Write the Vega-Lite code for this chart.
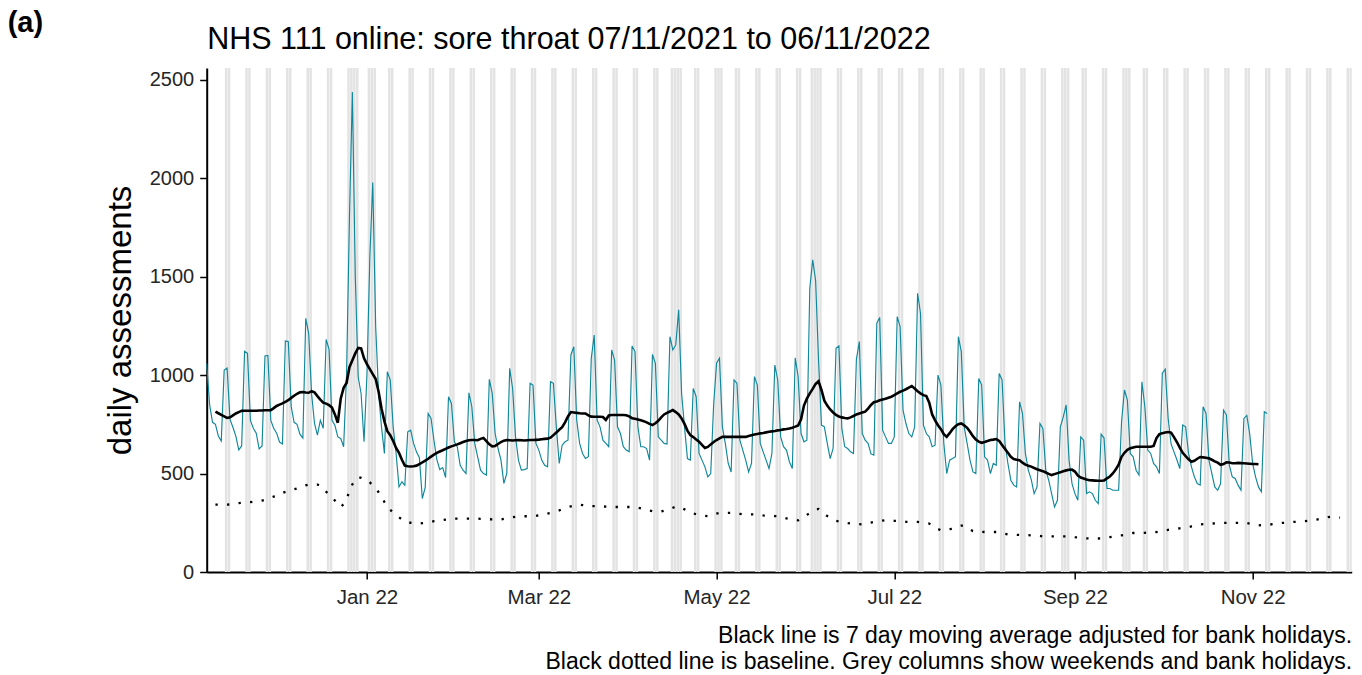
{
"$schema":"https://vega.github.io/schema/vega-lite/v6.json",
"width":1145,"height":504,
"autosize":{"type":"none"},
"padding":{"left":206.7,"top":68,"right":10.3,"bottom":103},
"background":"white",
"config":{"font":"Liberation Sans","view":{"stroke":null},"axis":{"grid":false},
"axisY":{"domainColor":"black","domainWidth":2,"tickColor":"black","tickWidth":1.5,"tickSize":7,"labelFontSize":20,"labelColor":"#262626","labelPadding":6,"titleFontSize":33,"titleFontWeight":"normal","titleColor":"black","titlePadding":12},
"axisBottom":{"domainColor":"black","domainWidth":2,"tickColor":"black","tickWidth":1.5,"tickSize":7,"labelFontSize":20.5,"labelColor":"#262626","labelPadding":8,"titleFontSize":23,"titleFontWeight":"normal","titleColor":"black","titleAnchor":"end","titleAlign":"right","titleLineHeight":25.5,"titlePadding":17}},
"title":{"text":"(a)","anchor":"start","frame":"group","fontSize":29,"fontWeight":"bold","color":"black","dx":-199,"dy":37,"offset":0,"baseline":"alphabetic"},
"data":{"values":[
{"d":"2021-11-07","v":1059},{"d":"2021-11-08","v":850},{"d":"2021-11-09","v":760},{"d":"2021-11-10","v":750,"m":814,"b":342},{"d":"2021-11-11","v":690,"m":806,"b":342},{"d":"2021-11-12","v":665,"m":798,"b":342},{"d":"2021-11-13","v":1025,"m":790,"b":342,"w":1},{"d":"2021-11-14","v":1035,"m":782,"b":342,"w":1},{"d":"2021-11-15","v":775,"m":785,"b":343},{"d":"2021-11-16","v":735,"m":795,"b":346},{"d":"2021-11-17","v":690,"m":805,"b":348},{"d":"2021-11-18","v":620,"m":812,"b":350},{"d":"2021-11-19","v":640,"m":818,"b":352},{"d":"2021-11-20","v":1120,"m":819,"b":353,"w":1},{"d":"2021-11-21","v":1110,"m":819,"b":354,"w":1},{"d":"2021-11-22","v":770,"m":819,"b":355},{"d":"2021-11-23","v":730,"m":819,"b":357},{"d":"2021-11-24","v":705,"m":819,"b":359},{"d":"2021-11-25","v":625,"m":820,"b":361},{"d":"2021-11-26","v":640,"m":820,"b":363},{"d":"2021-11-27","v":1097,"m":821,"b":367,"w":1},{"d":"2021-11-28","v":1100,"m":821,"b":372,"w":1},{"d":"2021-11-29","v":770,"m":822,"b":378},{"d":"2021-11-30","v":730,"m":832,"b":383},
{"d":"2021-12-01","v":705,"m":843,"b":389},{"d":"2021-12-02","v":660,"m":850,"b":395},{"d":"2021-12-03","v":650,"m":856,"b":401},{"d":"2021-12-04","v":1173,"m":864,"b":407,"w":1},{"d":"2021-12-05","v":1170,"m":872,"b":411,"w":1},{"d":"2021-12-06","v":840,"m":884,"b":415},{"d":"2021-12-07","v":760,"m":895,"b":420},{"d":"2021-12-08","v":750,"m":905,"b":424},{"d":"2021-12-09","v":700,"m":912,"b":429},{"d":"2021-12-10","v":680,"m":914,"b":434},{"d":"2021-12-11","v":1288,"m":911,"b":440,"w":1},{"d":"2021-12-12","v":1212,"m":910,"b":444,"w":1},{"d":"2021-12-13","v":905,"m":918,"b":445},{"d":"2021-12-14","v":755,"m":912,"b":445},{"d":"2021-12-15","v":695,"m":893,"b":444},{"d":"2021-12-16","v":770,"m":875,"b":440},{"d":"2021-12-17","v":730,"m":860,"b":425},{"d":"2021-12-18","v":1181,"m":855,"b":408,"w":1},{"d":"2021-12-19","v":1130,"m":847,"b":392,"w":1},{"d":"2021-12-20","v":770,"m":835,"b":378},{"d":"2021-12-21","v":745,"m":800,"b":363},{"d":"2021-12-22","v":686,"m":758,"b":345},{"d":"2021-12-23","v":678,"m":880,"b":330},{"d":"2021-12-24","v":636,"m":935,"b":345},{"d":"2021-12-25","v":1000,"m":960,"b":370,"w":1},{"d":"2021-12-26","v":1800,"m":1040,"b":410,"w":1},{"d":"2021-12-27","v":2437,"m":1075,"b":445,"w":1},{"d":"2021-12-28","v":1500,"m":1110,"b":465,"w":1},{"d":"2021-12-29","v":990,"m":1138,"b":482},{"d":"2021-12-30","v":905,"m":1135,"b":478},{"d":"2021-12-31","v":661,"m":1085,"b":472},
{"d":"2022-01-01","v":1000,"m":1055,"b":467,"w":1},{"d":"2022-01-02","v":1600,"m":1030,"b":455,"w":1},{"d":"2022-01-03","v":1978,"m":1005,"b":440,"w":1},{"d":"2022-01-04","v":1245,"m":980,"b":425},{"d":"2022-01-05","v":907,"m":915,"b":405},{"d":"2022-01-06","v":737,"m":830,"b":383},{"d":"2022-01-07","v":602,"m":765,"b":355},{"d":"2022-01-08","v":1017,"m":715,"b":328,"w":1},{"d":"2022-01-09","v":975,"m":695,"b":315,"w":1},{"d":"2022-01-10","v":737,"m":665,"b":302},{"d":"2022-01-11","v":602,"m":630,"b":290},{"d":"2022-01-12","v":432,"m":605,"b":278},{"d":"2022-01-13","v":458,"m":570,"b":267},{"d":"2022-01-14","v":440,"m":540,"b":256},{"d":"2022-01-15","v":712,"m":537,"b":252,"w":1},{"d":"2022-01-16","v":720,"m":536,"b":250,"w":1},{"d":"2022-01-17","v":653,"m":537,"b":248},{"d":"2022-01-18","v":610,"m":540,"b":247},{"d":"2022-01-19","v":580,"m":548,"b":246},{"d":"2022-01-20","v":373,"m":556,"b":248},{"d":"2022-01-21","v":430,"m":565,"b":250},{"d":"2022-01-22","v":805,"m":575,"b":253,"w":1},{"d":"2022-01-23","v":780,"m":586,"b":255,"w":1},{"d":"2022-01-24","v":669,"m":596,"b":258},{"d":"2022-01-25","v":570,"m":605,"b":260},{"d":"2022-01-26","v":520,"m":612,"b":262},{"d":"2022-01-27","v":530,"m":618,"b":264},{"d":"2022-01-28","v":480,"m":625,"b":266},{"d":"2022-01-29","v":890,"m":632,"b":268,"w":1},{"d":"2022-01-30","v":856,"m":638,"b":270,"w":1},{"d":"2022-01-31","v":661,"m":643,"b":271},
{"d":"2022-02-01","v":636,"m":648,"b":271},{"d":"2022-02-02","v":542,"m":654,"b":271},{"d":"2022-02-03","v":517,"m":660,"b":271},{"d":"2022-02-04","v":500,"m":665,"b":271},{"d":"2022-02-05","v":910,"m":669,"b":271,"w":1},{"d":"2022-02-06","v":839,"m":670,"b":271,"w":1},{"d":"2022-02-07","v":653,"m":670,"b":271},{"d":"2022-02-08","v":585,"m":669,"b":271},{"d":"2022-02-09","v":517,"m":676,"b":270},{"d":"2022-02-10","v":500,"m":680,"b":270},{"d":"2022-02-11","v":492,"m":665,"b":269},{"d":"2022-02-12","v":978,"m":648,"b":268,"w":1},{"d":"2022-02-13","v":907,"m":638,"b":267,"w":1},{"d":"2022-02-14","v":703,"m":640,"b":267},{"d":"2022-02-15","v":627,"m":650,"b":266},{"d":"2022-02-16","v":568,"m":660,"b":267},{"d":"2022-02-17","v":450,"m":667,"b":270},{"d":"2022-02-18","v":500,"m":670,"b":273},{"d":"2022-02-19","v":1034,"m":669,"b":276,"w":1},{"d":"2022-02-20","v":932,"m":668,"b":278,"w":1},{"d":"2022-02-21","v":686,"m":669,"b":280},{"d":"2022-02-22","v":568,"m":670,"b":282},{"d":"2022-02-23","v":517,"m":669,"b":283},{"d":"2022-02-24","v":520,"m":668,"b":283},{"d":"2022-02-25","v":525,"m":669,"b":283},{"d":"2022-02-26","v":958,"m":670,"b":283,"w":1},{"d":"2022-02-27","v":949,"m":670,"b":283,"w":1},{"d":"2022-02-28","v":653,"m":671,"b":285},
{"d":"2022-03-01","v":619,"m":672,"b":288},{"d":"2022-03-02","v":568,"m":674,"b":290},{"d":"2022-03-03","v":542,"m":676,"b":293},{"d":"2022-03-04","v":534,"m":677,"b":297},{"d":"2022-03-05","v":966,"m":682,"b":300,"w":1},{"d":"2022-03-06","v":958,"m":695,"b":304,"w":1},{"d":"2022-03-07","v":737,"m":708,"b":308},{"d":"2022-03-08","v":551,"m":722,"b":313},{"d":"2022-03-09","v":644,"m":735,"b":319},{"d":"2022-03-10","v":661,"m":760,"b":325},{"d":"2022-03-11","v":669,"m":790,"b":330},{"d":"2022-03-12","v":1102,"m":812,"b":333,"w":1},{"d":"2022-03-13","v":1144,"m":810,"b":336,"w":1},{"d":"2022-03-14","v":771,"m":808,"b":339},{"d":"2022-03-15","v":653,"m":806,"b":342},{"d":"2022-03-16","v":602,"m":805,"b":340},{"d":"2022-03-17","v":576,"m":805,"b":338},{"d":"2022-03-18","v":585,"m":795,"b":336},{"d":"2022-03-19","v":1085,"m":789,"b":334,"w":1},{"d":"2022-03-20","v":1203,"m":788,"b":334,"w":1},{"d":"2022-03-21","v":771,"m":788,"b":334},{"d":"2022-03-22","v":737,"m":788,"b":334},{"d":"2022-03-23","v":669,"m":787,"b":333},{"d":"2022-03-24","v":653,"m":772,"b":332},{"d":"2022-03-25","v":636,"m":795,"b":331},{"d":"2022-03-26","v":1127,"m":797,"b":330,"w":1},{"d":"2022-03-27","v":1076,"m":797,"b":330,"w":1},{"d":"2022-03-28","v":737,"m":797,"b":330},{"d":"2022-03-29","v":703,"m":797,"b":330},{"d":"2022-03-30","v":636,"m":797,"b":330},{"d":"2022-03-31","v":619,"m":796,"b":330},
{"d":"2022-04-01","v":610,"m":790,"b":330},{"d":"2022-04-02","v":1148,"m":781,"b":330,"w":1},{"d":"2022-04-03","v":1119,"m":778,"b":330,"w":1},{"d":"2022-04-04","v":737,"m":774,"b":327},{"d":"2022-04-05","v":636,"m":770,"b":323},{"d":"2022-04-06","v":636,"m":766,"b":319},{"d":"2022-04-07","v":627,"m":760,"b":315},{"d":"2022-04-08","v":568,"m":752,"b":312},{"d":"2022-04-09","v":1105,"m":746,"b":309,"w":1},{"d":"2022-04-10","v":1059,"m":755,"b":307,"w":1},{"d":"2022-04-11","v":686,"m":768,"b":305},{"d":"2022-04-12","v":669,"m":785,"b":307},{"d":"2022-04-13","v":653,"m":800,"b":311},{"d":"2022-04-14","v":650,"m":808,"b":315},{"d":"2022-04-15","v":1195,"m":815,"b":320,"w":1},{"d":"2022-04-16","v":1127,"m":822,"b":326,"w":1},{"d":"2022-04-17","v":1153,"m":812,"b":332,"w":1},{"d":"2022-04-18","v":1331,"m":800,"b":332,"w":1},{"d":"2022-04-19","v":907,"m":780,"b":325},{"d":"2022-04-20","v":737,"m":752,"b":318},{"d":"2022-04-21","v":576,"m":718,"b":310},{"d":"2022-04-22","v":568,"m":695,"b":303},{"d":"2022-04-23","v":932,"m":685,"b":298,"w":1},{"d":"2022-04-24","v":890,"m":673,"b":293,"w":1},{"d":"2022-04-25","v":602,"m":661,"b":289},{"d":"2022-04-26","v":568,"m":645,"b":287},{"d":"2022-04-27","v":534,"m":630,"b":285},{"d":"2022-04-28","v":483,"m":635,"b":283},{"d":"2022-04-29","v":500,"m":648,"b":286},{"d":"2022-04-30","v":850,"m":660,"b":291,"w":1},
{"d":"2022-05-01","v":1060,"m":670,"b":296,"w":1},{"d":"2022-05-02","v":1085,"m":678,"b":300,"w":1},{"d":"2022-05-03","v":737,"m":686,"b":300},{"d":"2022-05-04","v":653,"m":686,"b":300},{"d":"2022-05-05","v":551,"m":686,"b":300},{"d":"2022-05-06","v":508,"m":686,"b":300},{"d":"2022-05-07","v":975,"m":686,"b":299,"w":1},{"d":"2022-05-08","v":958,"m":686,"b":297,"w":1},{"d":"2022-05-09","v":669,"m":686,"b":295},{"d":"2022-05-10","v":619,"m":686,"b":293},{"d":"2022-05-11","v":568,"m":686,"b":293},{"d":"2022-05-12","v":508,"m":690,"b":293},{"d":"2022-05-13","v":551,"m":694,"b":293},{"d":"2022-05-14","v":992,"m":698,"b":293,"w":1},{"d":"2022-05-15","v":949,"m":701,"b":291,"w":1},{"d":"2022-05-16","v":653,"m":704,"b":289},{"d":"2022-05-17","v":610,"m":706,"b":287},{"d":"2022-05-18","v":568,"m":709,"b":286},{"d":"2022-05-19","v":525,"m":712,"b":285},{"d":"2022-05-20","v":602,"m":714,"b":285},{"d":"2022-05-21","v":1051,"m":716,"b":284,"w":1},{"d":"2022-05-22","v":975,"m":719,"b":283,"w":1},{"d":"2022-05-23","v":686,"m":721,"b":280},{"d":"2022-05-24","v":636,"m":724,"b":276},{"d":"2022-05-25","v":619,"m":726,"b":272},{"d":"2022-05-26","v":560,"m":729,"b":268},{"d":"2022-05-27","v":525,"m":733,"b":266},{"d":"2022-05-28","v":1088,"m":738,"b":264,"w":1},{"d":"2022-05-29","v":992,"m":744,"b":262,"w":1},{"d":"2022-05-30","v":703,"m":775,"b":270},{"d":"2022-05-31","v":661,"m":845,"b":280},
{"d":"2022-06-01","v":669,"m":880,"b":290},{"d":"2022-06-02","v":1441,"m":907,"b":299,"w":1},{"d":"2022-06-03","v":1585,"m":930,"b":308,"w":1},{"d":"2022-06-04","v":1480,"m":955,"b":317,"w":1},{"d":"2022-06-05","v":1076,"m":968,"b":320,"w":1},{"d":"2022-06-06","v":746,"m":925,"b":310},{"d":"2022-06-07","v":737,"m":870,"b":295},{"d":"2022-06-08","v":653,"m":845,"b":284},{"d":"2022-06-09","v":576,"m":825,"b":276},{"d":"2022-06-10","v":627,"m":810,"b":268},{"d":"2022-06-11","v":1136,"m":798,"b":260,"w":1},{"d":"2022-06-12","v":1148,"m":789,"b":257,"w":1},{"d":"2022-06-13","v":729,"m":785,"b":254},{"d":"2022-06-14","v":636,"m":782,"b":251},{"d":"2022-06-15","v":627,"m":780,"b":248},{"d":"2022-06-16","v":610,"m":785,"b":246},{"d":"2022-06-17","v":602,"m":792,"b":245},{"d":"2022-06-18","v":1080,"m":800,"b":244,"w":1},{"d":"2022-06-19","v":1170,"m":805,"b":243,"w":1},{"d":"2022-06-20","v":703,"m":810,"b":242},{"d":"2022-06-21","v":669,"m":814,"b":245},{"d":"2022-06-22","v":653,"m":830,"b":248},{"d":"2022-06-23","v":600,"m":848,"b":251},{"d":"2022-06-24","v":593,"m":862,"b":254},{"d":"2022-06-25","v":1263,"m":866,"b":256,"w":1},{"d":"2022-06-26","v":1292,"m":872,"b":258,"w":1},{"d":"2022-06-27","v":720,"m":876,"b":261},{"d":"2022-06-28","v":686,"m":880,"b":263},{"d":"2022-06-29","v":653,"m":885,"b":262},{"d":"2022-06-30","v":653,"m":890,"b":261},
{"d":"2022-07-01","v":686,"m":898,"b":260},{"d":"2022-07-02","v":1297,"m":907,"b":259,"w":1},{"d":"2022-07-03","v":1246,"m":915,"b":258,"w":1},{"d":"2022-07-04","v":822,"m":921,"b":256},{"d":"2022-07-05","v":754,"m":928,"b":255},{"d":"2022-07-06","v":703,"m":936,"b":254},{"d":"2022-07-07","v":686,"m":944,"b":254},{"d":"2022-07-08","v":737,"m":932,"b":254},{"d":"2022-07-09","v":1415,"m":918,"b":254,"w":1},{"d":"2022-07-10","v":1314,"m":907,"b":252,"w":1},{"d":"2022-07-11","v":746,"m":898,"b":250},{"d":"2022-07-12","v":703,"m":893,"b":248},{"d":"2022-07-13","v":686,"m":860,"b":246},{"d":"2022-07-14","v":636,"m":800,"b":238},{"d":"2022-07-15","v":644,"m":770,"b":228},{"d":"2022-07-16","v":1000,"m":745,"b":218,"w":1},{"d":"2022-07-17","v":949,"m":725,"b":212,"w":1},{"d":"2022-07-18","v":653,"m":700,"b":214},{"d":"2022-07-19","v":500,"m":686,"b":216},{"d":"2022-07-20","v":568,"m":705,"b":218},{"d":"2022-07-21","v":576,"m":725,"b":220},{"d":"2022-07-22","v":585,"m":740,"b":225},{"d":"2022-07-23","v":1195,"m":750,"b":230,"w":1},{"d":"2022-07-24","v":1119,"m":754,"b":235,"w":1},{"d":"2022-07-25","v":737,"m":745,"b":235},{"d":"2022-07-26","v":653,"m":732,"b":225},{"d":"2022-07-27","v":568,"m":712,"b":215},{"d":"2022-07-28","v":508,"m":690,"b":208},{"d":"2022-07-29","v":500,"m":672,"b":206},{"d":"2022-07-30","v":983,"m":662,"b":205,"w":1},{"d":"2022-07-31","v":949,"m":656,"b":204,"w":1},
{"d":"2022-08-01","v":585,"m":660,"b":203},{"d":"2022-08-02","v":568,"m":665,"b":203},{"d":"2022-08-03","v":500,"m":670,"b":203},{"d":"2022-08-04","v":551,"m":672,"b":203},{"d":"2022-08-05","v":542,"m":675,"b":203},{"d":"2022-08-06","v":1008,"m":665,"b":200,"w":1},{"d":"2022-08-07","v":975,"m":645,"b":197,"w":1},{"d":"2022-08-08","v":653,"m":625,"b":194},{"d":"2022-08-09","v":551,"m":605,"b":191},{"d":"2022-08-10","v":466,"m":585,"b":190},{"d":"2022-08-11","v":441,"m":574,"b":189},{"d":"2022-08-12","v":432,"m":570,"b":189},{"d":"2022-08-13","v":864,"m":567,"b":188,"w":1},{"d":"2022-08-14","v":805,"m":555,"b":188,"w":1},{"d":"2022-08-15","v":602,"m":545,"b":187},{"d":"2022-08-16","v":517,"m":540,"b":187},{"d":"2022-08-17","v":470,"m":535,"b":186},{"d":"2022-08-18","v":398,"m":528,"b":185},{"d":"2022-08-19","v":432,"m":522,"b":184},{"d":"2022-08-20","v":754,"m":517,"b":183,"w":1},{"d":"2022-08-21","v":729,"m":512,"b":181,"w":1},{"d":"2022-08-22","v":517,"m":505,"b":181},{"d":"2022-08-23","v":466,"m":498,"b":181},{"d":"2022-08-24","v":398,"m":492,"b":181},{"d":"2022-08-25","v":330,"m":497,"b":181},{"d":"2022-08-26","v":364,"m":502,"b":181},{"d":"2022-08-27","v":737,"m":507,"b":181,"w":1},{"d":"2022-08-28","v":788,"m":512,"b":181,"w":1},{"d":"2022-08-29","v":848,"m":516,"b":181,"w":1},{"d":"2022-08-30","v":568,"m":519,"b":180},{"d":"2022-08-31","v":449,"m":520,"b":179},
{"d":"2022-09-01","v":398,"m":510,"b":177},{"d":"2022-09-02","v":364,"m":490,"b":176},{"d":"2022-09-03","v":686,"m":480,"b":174,"w":1},{"d":"2022-09-04","v":669,"m":475,"b":173,"w":1},{"d":"2022-09-05","v":398,"m":470,"b":171},{"d":"2022-09-06","v":407,"m":466,"b":170},{"d":"2022-09-07","v":398,"m":465,"b":170},{"d":"2022-09-08","v":364,"m":464,"b":170},{"d":"2022-09-09","v":347,"m":463,"b":170},{"d":"2022-09-10","v":700,"m":463,"b":171,"w":1},{"d":"2022-09-11","v":680,"m":465,"b":173,"w":1},{"d":"2022-09-12","v":424,"m":475,"b":175},{"d":"2022-09-13","v":424,"m":485,"b":177},{"d":"2022-09-14","v":415,"m":500,"b":179},{"d":"2022-09-15","v":415,"m":520,"b":181},{"d":"2022-09-16","v":415,"m":545,"b":184},{"d":"2022-09-17","v":760,"m":585,"b":186,"w":1},{"d":"2022-09-18","v":924,"m":605,"b":189,"w":1},{"d":"2022-09-19","v":873,"m":620,"b":192,"w":1},{"d":"2022-09-20","v":602,"m":628,"b":195},{"d":"2022-09-21","v":585,"m":632,"b":198},{"d":"2022-09-22","v":517,"m":636,"b":198},{"d":"2022-09-23","v":492,"m":636,"b":198},{"d":"2022-09-24","v":966,"m":636,"b":198,"w":1},{"d":"2022-09-25","v":839,"m":636,"b":199,"w":1},{"d":"2022-09-26","v":619,"m":636,"b":200},{"d":"2022-09-27","v":602,"m":636,"b":201},{"d":"2022-09-28","v":551,"m":640,"b":202},{"d":"2022-09-29","v":534,"m":680,"b":203},{"d":"2022-09-30","v":500,"m":700,"b":206},
{"d":"2022-10-01","v":1010,"m":705,"b":209,"w":1},{"d":"2022-10-02","v":1030,"m":708,"b":212,"w":1},{"d":"2022-10-03","v":780,"m":711,"b":214},{"d":"2022-10-04","v":650,"m":708,"b":216},{"d":"2022-10-05","v":610,"m":685,"b":218},{"d":"2022-10-06","v":570,"m":660,"b":220},{"d":"2022-10-07","v":525,"m":632,"b":222},{"d":"2022-10-08","v":746,"m":605,"b":224,"w":1},{"d":"2022-10-09","v":737,"m":588,"b":226,"w":1},{"d":"2022-10-10","v":602,"m":572,"b":228},{"d":"2022-10-11","v":534,"m":560,"b":232},{"d":"2022-10-12","v":483,"m":565,"b":235},{"d":"2022-10-13","v":449,"m":575,"b":239},{"d":"2022-10-14","v":441,"m":584,"b":242},{"d":"2022-10-15","v":839,"m":582,"b":243,"w":1},{"d":"2022-10-16","v":805,"m":580,"b":244,"w":1},{"d":"2022-10-17","v":568,"m":577,"b":245},{"d":"2022-10-18","v":500,"m":570,"b":246},{"d":"2022-10-19","v":432,"m":562,"b":247},{"d":"2022-10-20","v":415,"m":555,"b":248},{"d":"2022-10-21","v":449,"m":544,"b":248},{"d":"2022-10-22","v":822,"m":548,"b":249,"w":1},{"d":"2022-10-23","v":797,"m":557,"b":249,"w":1},{"d":"2022-10-24","v":542,"m":556,"b":249},{"d":"2022-10-25","v":483,"m":552,"b":249},{"d":"2022-10-26","v":475,"m":552,"b":249},{"d":"2022-10-27","v":441,"m":554,"b":249},{"d":"2022-10-28","v":415,"m":553,"b":249},{"d":"2022-10-29","v":780,"m":552,"b":249,"w":1},{"d":"2022-10-30","v":795,"m":551,"b":249,"w":1},{"d":"2022-10-31","v":700,"m":550,"b":246},
{"d":"2022-11-01","v":551,"m":548,"b":243},{"d":"2022-11-02","v":483,"m":548,"b":240},{"d":"2022-11-03","v":432,"m":547,"b":237},{"d":"2022-11-04","v":407,"b":238},{"d":"2022-11-05","v":814,"b":239,"w":1},{"d":"2022-11-06","v":805,"b":240,"w":1},{"d":"2022-11-07","b":241},{"d":"2022-11-08","b":243},{"d":"2022-11-09","b":245},{"d":"2022-11-10","b":247},{"d":"2022-11-11","b":249},{"d":"2022-11-12","b":250,"w":1},{"d":"2022-11-13","b":251,"w":1},{"d":"2022-11-14","b":252},{"d":"2022-11-15","b":254},{"d":"2022-11-16","b":255},{"d":"2022-11-17","b":256},{"d":"2022-11-18","b":257},{"d":"2022-11-19","b":258,"w":1},{"d":"2022-11-20","b":260,"w":1},{"d":"2022-11-21","b":262},{"d":"2022-11-22","b":264},{"d":"2022-11-23","b":266},{"d":"2022-11-24","b":269},{"d":"2022-11-25","b":272},{"d":"2022-11-26","b":276,"w":1},{"d":"2022-11-27","b":279,"w":1},{"d":"2022-11-28","b":280},{"d":"2022-11-29","b":279},{"d":"2022-11-30","b":277},{"d":"2022-12-01","b":276},{"d":"2022-12-02"},{"d":"2022-12-03","w":1},{"d":"2022-12-04","w":1}
]},
"layer":[
{"transform":[{"filter":"datum.w == 1"}],
 "mark":{"type":"bar","color":"#e3e3e3","clip":true,"binSpacing":0.4},
 "encoding":{
  "x":{"field":"d","type":"temporal","timeUnit":"utcyearmonthdate",
   "scale":{"type":"utc","domain":[{"year":2021,"month":11,"date":7,"utc":true},{"year":2022,"month":12,"date":5,"utc":true}]},
   "axis":{"orient":"top","title":"NHS 111 online: sore throat 07/11/2021 to 06/11/2022","domain":false,"ticks":false,"labels":false,"titleAnchor":"start","titleAlign":"left","titleFontSize":30.5,"titleFontWeight":"normal","titleColor":"black","titlePadding":20,"titleBaseline":"alphabetic"}},
  "y":{"datum":2559,"type":"quantitative","scale":{"domain":[0,2559],"nice":false},"title":"daily assessments"},
  "y2":{"datum":0}}},
{"mark":{"type":"line","color":"#10879a","strokeWidth":1.15},
 "encoding":{
  "x":{"field":"d","type":"temporal","axis":{"orient":"bottom","format":"%b %y","tickCount":{"interval":"month","step":2},"title":["Black line is 7 day moving average adjusted for bank holidays.\u00a0","Black dotted line is baseline. Grey columns show weekends and bank holidays."]}},
  "y":{"field":"v","type":"quantitative","title":"daily assessments","axis":{"values":[0,500,1000,1500,2000,2500],"format":"d"}}}},
{"mark":{"type":"line","color":"black","strokeWidth":2.6},
 "encoding":{
  "x":{"field":"d","type":"temporal","axis":null},
  "y":{"field":"m","type":"quantitative","title":"daily assessments"}}},
{"mark":{"type":"line","color":"black","strokeWidth":2.3,"strokeDash":[2.3,9.3]},
 "encoding":{
  "x":{"field":"d","type":"temporal","axis":null},
  "y":{"field":"b","type":"quantitative","title":"daily assessments"}}}
],
"resolve":{"axis":{"x":"independent"}}
}
